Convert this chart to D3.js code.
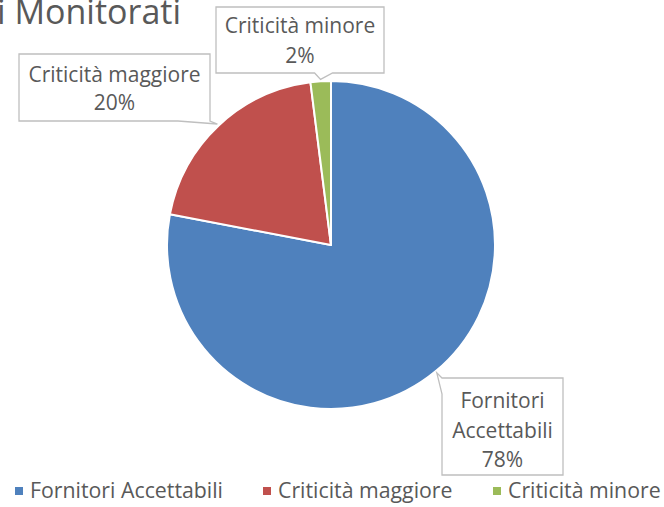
<!DOCTYPE html>
<html>
<head>
<meta charset="utf-8">
<style>
    body { margin: 0; background: white; }
    svg { display: block; }
    .lbl text, .legend text, .title {
        font-family: "Open Sans", sans-serif;
        fill: #595959;
    }
</style>
</head>
<body>
<svg width="664" height="507"></svg>
<script src="https://d3js.org/d3.v7.min.js"></script>
<script>
    // data
    let categories = ["Fornitori Accettabili", "Criticità maggiore", "Criticità minore"]
    let values = [78, 20, 2]
    let labelLines = [["Fornitori", "Accettabili", "78%"], ["Criticità maggiore", "20%"], ["Criticità minore", "2%"]]
    let colors = ["#4F81BD", "#C0504D", "#9BBB59"]

    let svg = d3.select("svg")

    let cx = 331, cy = 245, r = 164

    // title, cut off at the top and left of the picture
    svg.append("text")
        .attr("class", "title")
        .attr("x", 181)
        .attr("y", 24)
        .attr("text-anchor", "end")
        .style("font-size", "34px")
        .text("Fornitori Monitorati")

    let pie = d3.pie().sort(null).value(d => d)
    let arcs = pie(values)
    let arc = d3.arc().innerRadius(0).outerRadius(r)
    let tipArc = d3.arc().innerRadius(r + 2).outerRadius(r + 2)

    let g = svg.append("g").attr("transform", `translate(${cx},${cy})`)

    g.selectAll("path")
        .data(arcs)
        .join("path")
        .attr("d", arc)
        .attr("fill", (d, i) => colors[i])
        .attr("stroke", "white")
        .attr("stroke-width", 2)
        .attr("stroke-linejoin", "round")

    // label boxes (callouts), positions picked by eye
    let boxes = [
        { x: 442, y: 378, w: 121, h: 97, side: "left", lh: 29.5, y0: 408 },
        { x: 19, y: 54, w: 191, h: 67, side: "bottomR", lh: 28, y0: 82 },
        { x: 216, y: 7, w: 168, h: 66, side: "bottom", lh: 30, y0: 33 }
    ]

    boxes.forEach(function (b, i) {
        let c = tipArc.centroid(arcs[i])
        let tx = c[0] + cx, ty = c[1] + cy
        let L = b.x, T = b.y, R = b.x + b.w, B = b.y + b.h
        let p
        if (b.side == "left") {
            p = [[L, T], [R, T], [R, B], [L, B], [L, T + 16], [tx, ty], [L, T]]
        } else if (b.side == "bottomR") {
            p = [[L, T], [R, T], [R, B], [tx, ty], [R - 32, B], [L, B]]
        } else {
            p = [[L, T], [R, T], [R, B], [tx + 12, B], [tx, ty], [tx - 6, B], [L, B]]
        }
        let lg = svg.append("g").attr("class", "lbl")
        lg.append("path")
            .attr("d", "M" + p.map(q => q.join(",")).join("L") + "Z")
            .attr("fill", "white")
            .attr("stroke", "#BFBFBF")
            .attr("stroke-width", 1.3)
        labelLines[i].forEach(function (t, j) {
            lg.append("text")
                .attr("x", L + b.w / 2)
                .attr("y", b.y0 + j * b.lh)
                .attr("text-anchor", "middle")
                .style("font-size", "21px")
                .text(t)
        })
    })

    // legend
    let legX = [15, 263, 493]
    let legend = svg.append("g").attr("class", "legend")
    categories.forEach(function (c, i) {
        legend.append("rect")
            .attr("x", legX[i])
            .attr("y", 487)
            .attr("width", 8)
            .attr("height", 8)
            .attr("fill", colors[i])
        legend.append("text")
            .attr("x", legX[i] + 15)
            .attr("y", 498)
            .style("font-size", "21.3px")
            .text(c)
    })
</script>
</body>
</html>
